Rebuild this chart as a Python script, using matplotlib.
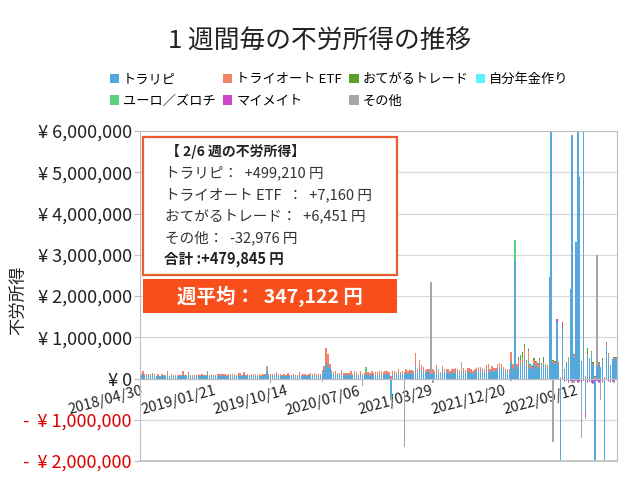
import numpy as np
import matplotlib.pyplot as plt
from matplotlib.patches import Rectangle
from matplotlib.ticker import FuncFormatter

plt.rcParams['font.family'] = ['Noto Sans CJK JP', 'DejaVu Sans']

# ========================
# DATA (weekly, thousand yen, weeks from 2018/04/30 to 2023/02/06)
# ========================
N_WEEKS = 250
TICK_STEP = 38
tick_labels = ["2018/04/30", "2019/01/21", "2019/10/14", "2020/07/06",
               "2021/03/29", "2021/12/20", "2022/09/12"]

series_names = ["トラリピ", "トライオート ETF", "おてがるトレード", "自分年金作り",
                "ユーロ／ズロチ", "マイメイト", "その他"]
series_colors = ["#55a8dc", "#f4836a", "#5b9e2a", "#5cf2ff",
                 "#56d27a", "#cc47cc", "#a6a6a6"]

torarepi = [
    60, 110, 50, 70, 80, 60, 100, 70, 50, 60,
    40, 80, 70, 60, 110, 50, 70, 60, 40, 70,
    60, 50, 80, 70, 60, 120, 60, 50, 40, 60,
    70, 60, 90, 50, 60, 150, 60, 70, 50, 60,
    80, 60, 70, 90, 60, 50, 70, 80, 60, 70,
    60, 90, 70, 60, 120, 70, 60, 50, 80, 60,
    70, 60, 50, 70, 60, 80, 180, 70, 60, 90,
    60, 110, 70, 50, 60, 70, 60, 80, 50, 60,
    70, 60, 50, 90, 60, 70, 60, 50, 80, 70,
    60, 90, 70, 60, 80, 120, 200, 380, 300, 250,
    150, 110, 90, 100, 80, 120, 90, 70, 100, 80,
    90, 70, 110, 80, 70, 100, 60, 90, 120, 80,
    70, 100, 80, 90, 70, 110, 80, 90, 100, 120,
    90, -470, 100, 120, 90, 150, 100, 110, 90, 140,
    110, 150, 120, 100, 300, 140, 220, 200, 180, 130,
    150, 170, 120, 140, 110, 260, 130, 100, 220, 150,
    180, 140, 120, 160, 130, 200, 150, 110, 100, 170,
    130, 190, 160, 140, 120, 170, 150, 200, 230, 160,
    140, 260, 180, 150, 200, 170, 190, 280, 220, 250,
    200, 150, 180, 120, 400, 220, 2860, 280, 300, 350,
    380, 550, 300, 420, 260, 240, 380, 300, 260, 400,
    280, 350, 300, 250, 2450, 7500, 380, 360, 1360, 320,
    -3000, 1200, 180, 320, 420, 2180, 5900, 520, 3300, 6800,
    4880, 380, 7200, -870, 530, 420, 630, 320, -2600, 300,
    350, 260, 420, -2800, 780, 550, 300, 420, 480, 499,
]
auto_etf = [
    50, 60, 60, 30, 40, 50, 30, 40, 20, 60,
    30, 40, 20, 30, 60, 20, 40, 30, 50, 20,
    30, 40, 90, 20, 30, 40, 20, 30, 50, 20,
    40, 30, 20, 40, 30, 20, 30, 50, 40, 30,
    20, 50, 40, 30, 60, 40, 30, 20, 50, 40,
    30, 40, 60, 30, 30, 20, 50, 40, 30, 60,
    40, 30, 50, 20, 40, 30, 0, 40, 50, 30,
    60, 40, 30, 50, 20, 40, 30, 60, 40, 30,
    50, 30, 40, 60, 30, 40, 50, 30, 40, 60,
    40, 50, 30, 60, 40, 80, 100, 370, 300, 110,
    60, 50, 80, 40, 60, 90, 50, 70, 40, 60,
    80, 50, 60, 70, 40, 90, 60, 50, 40, 70,
    60, 80, 50, 70, 90, 60, 100, 70, 80, 60,
    70, 60, 80, 50, 70, 90, 60, 80, 70, 100,
    80, 60, 90, 70, 330, 100, 220, 120, 100, 80,
    90, 70, 60, 80, 60, 70, 90, 60, 80, 70,
    60, 90, 70, 80, 100, 60, 70, 90, 60, 80,
    70, 60, 90, 80, 60, 70, 100, 80, 60, 90,
    80, 60, 180, 90, 100, 80, 60, 70, 150, 90,
    70, 80, 60, 100, 250, 120, 0, 80, 150, 100,
    120, 200, 100, 250, 60, 50, 80, 90, 100, 60,
    50, 60, 40, 50, 0, 0, 40, 30, 0, 50,
    40, 0, 30, 40, 60, 0, 0, 40, 0, 0,
    0, 30, 0, 50, 40, 30, 20, 40, 30, 20,
    30, 20, 40, 30, 50, 40, 20, 30, 20, 7,
]
otegaru = [0] * 190 + [
    0, 0, 0, 0, 0, 0, 0, 0, 60, 120,
    150, 80, 60, 40, 30, 20, 40, 30, 20, 30,
    40, 120, 20, 30, 0, 0, 20, 30, 0, 20,
    0, 60, 20, 30, 20, 0, 0, 30, 0, 0,
    0, 20, 0, 0, 180, 30, 20, 30, 20, 10,
    20, 10, 30, 0, 20, 30, 10, 20, 10, 6,
]
nenkin = [0] * 200 + [
    0, 0, 0, 20, 0, 15, 0, 10, 0, 0,
    15, 0, 0, 0, 0, 0, 0, 0, 0, 0,
    0, 0, 0, 0, 20, 0, 0, 0, 0, 0,
    0, 0, 0, 0, 0, 10, 0, 0, 0, 0,
    0, 0, 0, 0, 0, 0, 0, 0, 0, 0,
]
euro_pln = [0] * 118 + [110] + [0] * 77 + [490] + [0] * 53
mymate = [0] * 210 + [
    0, 0, 0, 0, 0, 0, 0, 0, 90, 0,
    -50, 110, -60, -40, -80, -50, -70, -60, -40, -90,
    -60, -80, -50, -70, -90, -60, -80, -100, -70, -60,
    -80, -50, -70, -90, 40, -60, -80, -50, -70, 0,
]
sonota = [
    -30, -20, -40, -30, -20, -30, -40, -20, -30, -30,
    -20, -30, -40, -30, -20, -30, -30, -40, -20, -30,
    -30, -40, -20, -30, -30, -20, -40, -30, -20, -30,
    -40, -30, -20, -30, -30, -40, -20, -30, -30, -20,
    -30, -20, -40, -30, -30, -20, -30, -40, -30, -20,
    -30, -40, -20, -30, -30, -20, -40, -30, -30, -20,
    -30, -30, -40, -20, -30, -30, 130, -30, -120, -30,
    -20, -30, -40, -30, -20, -30, -30, -40, -20, -30,
    -30, -20, -40, -30, -30, -20, -30, -40, -30, -30,
    -20, -30, -40, -30, -30, -80, -30, -40, -30, -20,
    -30, -40, -20, -30, -30, -20, -40, -30, -20, -30,
    -30, -20, -40, -30, -30, -20, -190, -30, -20, -30,
    -40, -30, -20, -30, -30, -40, -20, -30, -30, -20,
    -30, -40, -20, -30, -30, -20, -30, -40, -1650, -30,
    -30, -20, -40, -30, -30, -20, -30, -40, -30, -20,
    -30, -40, 2150, -100, -30, -20, -30, -40, -30, -30,
    -20, -30, -40, -30, -30, -20, -30, -40, 250, -30,
    -30, -20, -40, -30, -30, -20, -30, -40, -30, -20,
    -30, -40, -20, -30, -30, -20, -40, -30, -30, -20,
    -30, -40, -20, -30, -60, -20, -30, -40, -30, -30,
    -20, -30, -40, -30, -30, -20, -30, -40, -30, -20,
    -30, -40, -20, -30, -30, -30, -1550, -40, -30, -20,
    -30, -40, -20, -30, -30, -20, -30, -40, -30, -20,
    -30, -1360, -20, -30, -30, -20, -30, -40, -30, 2670,
    -20, -460, -40, -30, -30, -20, -30, -40, -30, -33,
]
series_values = [torarepi, auto_etf, otegaru, nenkin, euro_pln, mymate, sonota]

# annotation texts
box_title = "【 2/6 週の不労所得】"
box_lines = ["トラリピ：  +499,210 円", "トライオート ETF  ：  +7,160 円",
             "おてがるトレード：  +6,451 円", "その他：  -32,976 円"]
box_total = "合計 :+479,845 円"
weekly_avg = "週平均：  347,122 円"

# ========================
# PLOT
# ========================
fig = plt.figure(figsize=(6.4, 4.8), dpi=100)
ax = fig.add_axes([140 / 640, 1 - 461 / 480, 477 / 640, 330 / 480])

x = np.arange(N_WEEKS)
pos_bottom = np.zeros(N_WEEKS)
neg_bottom = np.zeros(N_WEEKS)
handles = []
for name, color, vals in zip(series_names, series_colors, series_values):
    assert len(vals) == N_WEEKS, name
    v = np.array(vals, dtype=float) * 1000
    pos = np.where(v > 0, v, 0)
    neg = np.where(v < 0, v, 0)
    h = ax.bar(x, pos, bottom=pos_bottom, width=0.72, color=color, label=name,
               linewidth=0)
    ax.bar(x, neg, bottom=neg_bottom, width=0.72, color=color, linewidth=0)
    pos_bottom += pos
    neg_bottom += neg
    handles.append(h)

# axis at zero first (moving the spine resets tick label styles)
ax.spines["bottom"].set_position(("data", 0))
ax.spines["bottom"].set_color("#bfbfbf")
for s in ["left", "right", "top"]:
    ax.spines[s].set_color("#bfbfbf")

ax.set_xlim(-0.5, N_WEEKS - 0.5)
ax.set_ylim(-2e6, 6e6)
ax.set_yticks(np.arange(-2e6, 6e6 + 1, 1e6))
ax.yaxis.set_major_formatter(FuncFormatter(
    lambda v, p: f"¥ {v:,.0f}" if v >= 0 else f"-  ¥ {-v:,.0f}"))
ax.tick_params(axis="y", labelsize=13, length=4, width=0.8, color="#bfbfbf",
               pad=2, labelcolor="#222222")
for lab, val in zip(ax.get_yticklabels(), ax.get_yticks()):
    if val < 0:
        lab.set_color("#e00000")

ax.set_xticks(np.arange(0, N_WEEKS, TICK_STEP))
ax.set_xticklabels(tick_labels, rotation=15, ha="right", rotation_mode="anchor",
                   fontsize=10.5, color="#222222")
ax.tick_params(axis="x", length=0, pad=4)

ax.grid(axis="y", color="#d9d9d9", lw=0.9)
ax.set_axisbelow(True)
ax.axhline(-2e6, color="#bfbfbf", lw=1.2, clip_on=False)

# title, y label
fig.text(0.5, 1 - 42 / 480, "1 週間毎の不労所得の推移", ha="center", va="center",
         fontsize=18.5, color="#222222")
fig.text(18 / 640, 1 - 300 / 480, "不労所得", rotation=90, ha="center",
         va="center", fontsize=12.5, color="#222222")

# legend, filled row by row
order = [0, 4, 1, 5, 2, 6, 3]
fig.legend([handles[i] for i in order], [series_names[i] for i in order],
           loc="upper left", bbox_to_anchor=(110 / 640, 1 - 73 / 480), ncol=4,
           frameon=False, fontsize=9.5, handlelength=0.7, handleheight=0.7,
           handletextpad=0.3, columnspacing=0.55, labelspacing=0.65,
           borderpad=0, borderaxespad=0)

# annotation box
fig.patches.append(Rectangle((143 / 640, 1 - 275 / 480), 254 / 640, 138 / 480,
                             transform=fig.transFigure, facecolor="white",
                             edgecolor="#ea5a2c", lw=1.6, zorder=5))
fig.patches.append(Rectangle((143 / 640, 1 - 313 / 480), 254 / 640, 34 / 480,
                             transform=fig.transFigure, facecolor="#f74e1b",
                             edgecolor="none", zorder=5))
fig.text(166 / 640, 1 - 151 / 480, box_title, fontsize=10, fontweight="bold",
         va="center", color="#222222", zorder=6)
for k, line in enumerate(box_lines):
    fig.text(165 / 640, 1 - (173 + k * 21.5) / 480, line, fontsize=10.5,
             va="center", color="#333333", zorder=6)
fig.text(164 / 640, 1 - 259 / 480, box_total, fontsize=10.5, fontweight="bold",
         va="center", color="#222222", zorder=6)
fig.text(270 / 640, 1 - 296 / 480, weekly_avg, fontsize=14, fontweight="bold",
         ha="center", va="center", color="white", zorder=6)

fig.savefig("out.png", dpi=100)
